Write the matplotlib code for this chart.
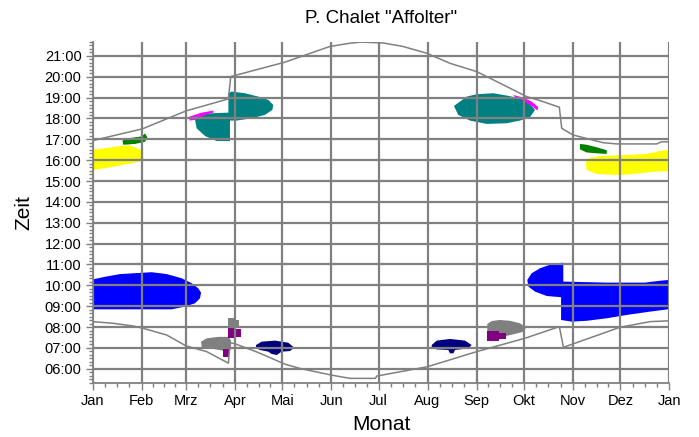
import numpy as np
import matplotlib
matplotlib.use("Agg")
import matplotlib.pyplot as plt
from matplotlib.ticker import FixedLocator, MultipleLocator

plt.rcParams["font.family"] = ["Liberation Sans", "DejaVu Sans"]

# ─── Data (day of year, hour of day) ─────────────────────────────────────────
month_starts = [0, 31, 59, 90, 120, 151, 181, 212, 243, 273, 304, 334, 365]
month_labels = ["Jan", "Feb", "Mrz", "Apr", "Mai", "Jun", "Jul",
                "Aug", "Sep", "Okt", "Nov", "Dez", "Jan"]
hour_ticks = list(range(6, 22))

sunset_day  = [0, 31.4, 59, 85.9, 87.4, 121.7, 150, 163, 170, 184, 196.6, 211.4,
               226, 243, 260, 274.7, 285, 295.4, 296.9, 304, 323, 331.7, 357, 360, 365]
sunset_hour = [16.94, 17.50, 18.36, 18.94, 20.01, 20.70, 21.45, 21.61, 21.66, 21.62,
               21.45, 21.13, 20.65, 20.25, 19.61, 19.05, 18.81, 18.54, 17.53, 17.21,
               16.84, 16.78, 16.78, 16.88, 16.88]

sunrise_day  = [0, 13, 25.7, 32, 46.8, 59, 72.2, 85.9, 86.9, 90, 104.8, 121.7, 131,
                150.9, 163, 179, 179.8, 212, 243, 273.5, 295.4, 298, 304, 333.8, 352.8, 365]
sunrise_hour = [8.26, 8.18, 8.05, 7.94, 7.62, 7.10, 6.82, 6.27, 7.25, 7.20, 6.78, 6.22,
                6.02, 5.70, 5.54, 5.54, 5.65, 6.10, 6.82, 7.46, 8.02, 7.03, 7.19, 7.99,
                8.26, 8.30]

# shadow areas
yellow_left_d  = [0, 8, 15, 22, 27, 32, 32, 29, 22, 11, 0]
yellow_left_h  = [16.50, 16.58, 16.65, 16.72, 16.62, 16.42, 16.05, 15.92, 15.82, 15.66, 15.52]
yellow_right_d = [312.1, 313.7, 321.1, 338, 350.7, 359.1, 365, 365, 354.9, 346.5, 333.8, 319, 312.7]
yellow_right_h = [15.93, 16.09, 16.20, 16.25, 16.30, 16.44, 16.49, 15.48, 15.45, 15.37, 15.29, 15.34, 15.53]

green_left_d  = [18.8, 23.6, 31, 33.1, 34.6, 33.1, 26.8, 19.4]
green_left_h  = [16.94, 17.06, 17.14, 17.28, 17.10, 16.88, 16.78, 16.74]
green_right_d = [308.5, 312.7, 319, 325.4, 325.4, 319, 312.7, 308.5]
green_right_h = [16.78, 16.74, 16.62, 16.48, 16.30, 16.33, 16.37, 16.52]

teal_left_d = [86.9, 78.5, 71.1, 65.8, 64.8, 67.9, 75.3, 85.9, 85.9, 88, 96.4, 104.8,
               111.2, 114.3, 113.7, 109, 100.7, 91.2, 86.9]
teal_left_h = [16.92, 16.92, 17.16, 17.53, 17.93, 18.17, 18.25, 18.28, 19.21, 19.29,
               19.21, 19.05, 18.89, 18.65, 18.41, 18.17, 18.01, 17.90, 17.90]
teal_right_d = [228.7, 236.8, 243, 253.6, 262, 270.5, 276.8, 280, 276.8, 270.5, 262,
                249.4, 238.8, 231.4]
teal_right_h = [18.60, 19.05, 19.16, 19.21, 19.10, 18.97, 18.70, 18.41, 18.06, 17.90,
                17.77, 17.74, 17.90, 18.17]

magenta_left_d  = [61.2, 61.2, 64.8, 71.1, 76.4, 76.4, 69, 61.2]
magenta_left_h  = [18.06, 17.90, 17.93, 18.17, 18.28, 18.38, 18.28, 18.09]
magenta_right_d = [266.3, 272.6, 277.9, 282.1, 281.5, 277.9, 272.6, 267.3]
magenta_right_h = [19.13, 19.00, 18.81, 18.54, 18.38, 18.60, 18.84, 19.02]

blue_left_d = [0.4, 0.4, 7.8, 17.3, 37.3, 46.8, 56.3, 62.7, 66.8, 68.6, 67.9, 64.8,
               58.4, 50, 0.4]
blue_left_h = [8.85, 10.29, 10.41, 10.54, 10.63, 10.54, 10.34, 10.10, 9.86, 9.65, 9.38,
               9.14, 8.98, 8.85, 8.85]
blue_right_d = [297.9, 290.6, 283.2, 277.9, 275.1, 275.8, 280, 287.4, 296.5, 296.5,
                303.2, 312.7, 325.4, 338, 352.8, 365, 365, 359.1, 349.6, 325.4, 297.9]
blue_right_h = [11.09, 11.02, 10.82, 10.58, 10.26, 9.94, 9.70, 9.49, 9.43, 8.34,
                8.26, 8.30, 8.42, 8.58, 8.74, 8.86, 10.26, 10.22, 10.13, 10.13, 10.18]

navy_left_d  = [103.4, 107, 115.4, 123.8, 127.6, 124.9, 119.6, 116.5, 113.3, 111.2, 105.9, 103.4]
navy_left_h  = [7.14, 7.30, 7.35, 7.25, 7.01, 6.85, 6.82, 6.66, 6.71, 6.82, 6.90, 7.00]
navy_right_d = [214.6, 217.8, 226.2, 235.7, 239.9, 237.8, 229.4, 228.3, 226.2, 225.1, 217.8, 214.6]
navy_right_h = [7.14, 7.35, 7.43, 7.35, 7.14, 6.98, 6.90, 6.74, 6.74, 6.90, 6.93, 7.03]

gray_left_d   = [68.6, 72.2, 79.5, 85.9, 87.6, 87.6, 85.9, 81.7, 69]
gray_left_h   = [7.30, 7.46, 7.53, 7.53, 7.35, 6.95, 6.78, 6.88, 7.05]
gray_top_d    = [85.9, 89.6, 89.6, 92.8, 92.8, 85.9]
gray_top_h    = [8.45, 8.45, 8.36, 8.36, 7.94, 7.94]
gray_right_d  = [249.8, 252.6, 257.8, 264.2, 270.5, 274.3, 273, 267.3, 261.6, 249.8]
gray_right_h  = [8.15, 8.29, 8.34, 8.30, 8.18, 7.99, 7.78, 7.67, 7.57, 7.57]

purple_low_d   = [82.3, 86.1, 86.1, 82.3]
purple_low_h   = [6.93, 6.93, 6.58, 6.58]
purple_up_d    = [85.9, 89.6, 89.6, 93.9, 93.9, 89.6, 89.6, 85.9]
purple_up_h    = [7.97, 7.97, 7.89, 7.89, 7.51, 7.51, 7.46, 7.46]
purple_right_d = [249.5, 257, 257, 261.5, 261.5, 257, 257, 249.5]
purple_right_h = [7.81, 7.81, 7.72, 7.72, 7.42, 7.42, 7.35, 7.35]

areas = [
    (yellow_left_d, yellow_left_h, "#FFFF00"), (yellow_right_d, yellow_right_h, "#FFFF00"),
    (green_left_d, green_left_h, "#008000"), (green_right_d, green_right_h, "#008000"),
    (teal_left_d, teal_left_h, "#008080"), (teal_right_d, teal_right_h, "#008080"),
    (magenta_left_d, magenta_left_h, "#FF00FF"), (magenta_right_d, magenta_right_h, "#FF00FF"),
    (blue_left_d, blue_left_h, "#0000FF"), (blue_right_d, blue_right_h, "#0000FF"),
    (navy_left_d, navy_left_h, "#000080"), (navy_right_d, navy_right_h, "#000080"),
    (gray_left_d, gray_left_h, "#808080"), (gray_top_d, gray_top_h, "#808080"),
    (gray_right_d, gray_right_h, "#808080"),
    (purple_low_d, purple_low_h, "#800080"), (purple_up_d, purple_up_h, "#800080"),
    (purple_right_d, purple_right_h, "#800080"),
]

# ─── Plot ────────────────────────────────────────────────────────────────────
GRID = "#808080"
fig = plt.figure(figsize=(6.99, 4.37), dpi=100)
ax = fig.add_axes([0.1326, 0.1243, 0.8249, 0.7796])

for d, h, c in areas:
    ax.fill(d, h, color=c, lw=0, zorder=1)

ax.plot(sunset_day, sunset_hour, color=GRID, lw=1.1, zorder=3)
ax.plot(sunrise_day, sunrise_hour, color=GRID, lw=1.1, zorder=3)

ax.set_xlim(0, 365)
ax.set_ylim(5 + 20 / 60, 21 + 40 / 60)

ax.xaxis.set_major_locator(FixedLocator(month_starts))
ax.set_xticklabels(month_labels)
minor_x = [a + k * (b - a) / 4 for a, b in zip(month_starts[:-1], month_starts[1:]) for k in (1, 2, 3)]
ax.xaxis.set_minor_locator(FixedLocator(minor_x))
ax.yaxis.set_major_locator(FixedLocator(hour_ticks))
ax.set_yticklabels([f"{h:02d}:00" for h in hour_ticks])
ax.yaxis.set_minor_locator(MultipleLocator(1 / 6))

ax.grid(which="major", color=GRID, lw=1.6)
ax.set_axisbelow(False)
for s in ("top", "right"):
    ax.spines[s].set_visible(False)
for s in ("left", "bottom"):
    ax.spines[s].set_color(GRID)
    ax.spines[s].set_linewidth(1.3)
ax.tick_params(which="major", length=5, width=1, color=GRID, labelsize=10.5, pad=3)
ax.tick_params(which="minor", length=3, width=1, color=GRID)

ax.set_xlabel("Monat", fontsize=15, labelpad=5)
ax.set_ylabel("Zeit", fontsize=15, labelpad=8)
ax.set_title('P. Chalet "Affolter"', fontsize=13.5, pad=14)

fig.savefig("out.png", dpi=100)
